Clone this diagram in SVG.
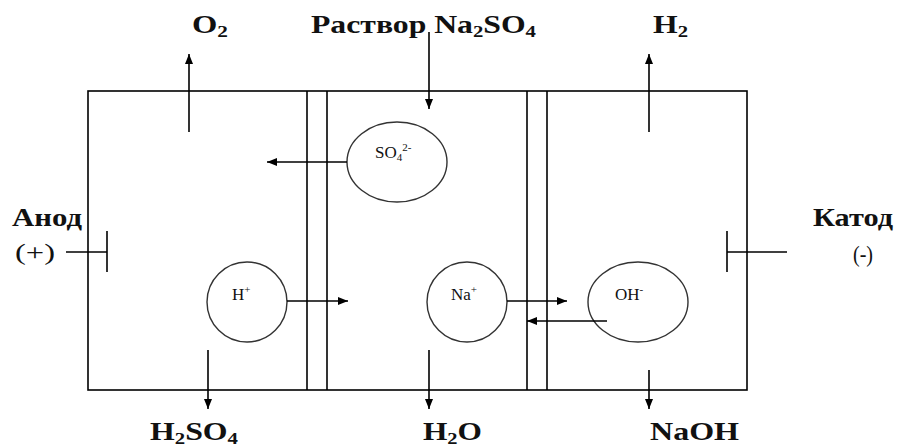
<svg xmlns="http://www.w3.org/2000/svg" width="904" height="447" viewBox="0 0 904 447" font-family="Liberation Serif, serif">
<style>
.ln{stroke:#000;stroke-width:1.6;fill:none}
.ion{stroke:#333;stroke-width:1.4;fill:#fff}
text{font-family:'Liberation Serif',serif}
.big{font-weight:bold;font-size:26px;fill:#111}
.sm{font-size:17px;fill:#111}
.reg{font-size:24px;fill:#111}
</style>
<defs>
<marker id="ah" markerWidth="10" markerHeight="8" refX="10" refY="4" orient="auto" markerUnits="userSpaceOnUse">
<path d="M0,0 L10,4 L0,8 Z" fill="#000"/>
</marker>
</defs>
<rect width="904" height="447" fill="#fff"/>
<g id="cell">
<rect x="88" y="91" width="659" height="299" class="ln"/>
<line x1="307" y1="91" x2="307" y2="390" class="ln"/>
<line x1="327" y1="91" x2="327" y2="390" class="ln"/>
<line x1="527" y1="91" x2="527" y2="390" class="ln"/>
<line x1="547" y1="91" x2="547" y2="390" class="ln"/>
</g>
<g id="anode">
<line x1="107" y1="231" x2="107" y2="272" class="ln"/>
<line x1="66" y1="252" x2="107" y2="252" class="ln"/>
<text class="big" x="12" y="226" textLength="70" lengthAdjust="spacingAndGlyphs">Анод</text>
<text class="reg" x="15" y="260" textLength="40" lengthAdjust="spacingAndGlyphs">(+)</text>
</g>
<g id="cathode">
<line x1="727" y1="231" x2="727" y2="272" class="ln"/>
<line x1="727" y1="252" x2="787" y2="252" class="ln"/>
<text class="big" x="813" y="226" textLength="80" lengthAdjust="spacingAndGlyphs">Катод</text>
<text class="reg" x="853" y="262" textLength="20" lengthAdjust="spacingAndGlyphs">(-)</text>
</g>
<g id="so4">
<ellipse cx="397" cy="162" rx="50" ry="40" class="ion"/>
<text class="sm" x="375" y="158">SO<tspan font-size="11" dy="3">4</tspan><tspan font-size="11" dy="-10">2-</tspan></text>
</g>
<g id="hplus">
<circle cx="247" cy="302" r="40" class="ion"/>
<text class="sm" x="232" y="300">H<tspan font-size="11" dy="-7">+</tspan></text>
</g>
<g id="naplus">
<circle cx="467" cy="302" r="40" class="ion"/>
<text class="sm" x="451" y="300">Na<tspan font-size="11" dy="-7">+</tspan></text>
</g>
<g id="ohminus">
<ellipse cx="638" cy="302" rx="50" ry="40" class="ion"/>
<text class="sm" x="615" y="300">OH<tspan font-size="11" dy="-7">-</tspan></text>
</g>
<g id="labels">
<text class="big" x="192" y="33" textLength="36" lengthAdjust="spacingAndGlyphs">O<tspan font-size="17" dy="4">2</tspan></text>
<text class="big" x="311" y="33" textLength="225" lengthAdjust="spacingAndGlyphs">Раствор Na<tspan font-size="17" dy="4">2</tspan><tspan dy="-4">SO</tspan><tspan font-size="17" dy="4">4</tspan></text>
<text class="big" x="653" y="33" textLength="35" lengthAdjust="spacingAndGlyphs">H<tspan font-size="17" dy="4">2</tspan></text>
<text class="big" x="150" y="440" textLength="88" lengthAdjust="spacingAndGlyphs">H<tspan font-size="17" dy="4">2</tspan><tspan dy="-4">SO</tspan><tspan font-size="17" dy="4">4</tspan></text>
<text class="big" x="423" y="440" textLength="59" lengthAdjust="spacingAndGlyphs">H<tspan font-size="17" dy="4">2</tspan><tspan dy="-4">O</tspan></text>
<text class="big" x="650" y="440" textLength="89" lengthAdjust="spacingAndGlyphs">NaOH</text>
</g>
<g id="connectors">
<line x1="189" y1="132" x2="189" y2="54" class="ln" marker-end="url(#ah)"/>
<line x1="429" y1="32" x2="429" y2="109" class="ln" marker-end="url(#ah)"/>
<line x1="649" y1="132" x2="649" y2="54" class="ln" marker-end="url(#ah)"/>
<line x1="347" y1="162" x2="267" y2="162" class="ln" marker-end="url(#ah)"/>
<line x1="287" y1="301" x2="348" y2="301" class="ln" marker-end="url(#ah)"/>
<line x1="507" y1="301" x2="567" y2="301" class="ln" marker-end="url(#ah)"/>
<line x1="607" y1="321" x2="527" y2="321" class="ln" marker-end="url(#ah)"/>
<line x1="208" y1="350" x2="208" y2="409" class="ln" marker-end="url(#ah)"/>
<line x1="429" y1="350" x2="429" y2="409" class="ln" marker-end="url(#ah)"/>
<line x1="649" y1="370" x2="649" y2="409" class="ln" marker-end="url(#ah)"/>
</g>
</svg>
